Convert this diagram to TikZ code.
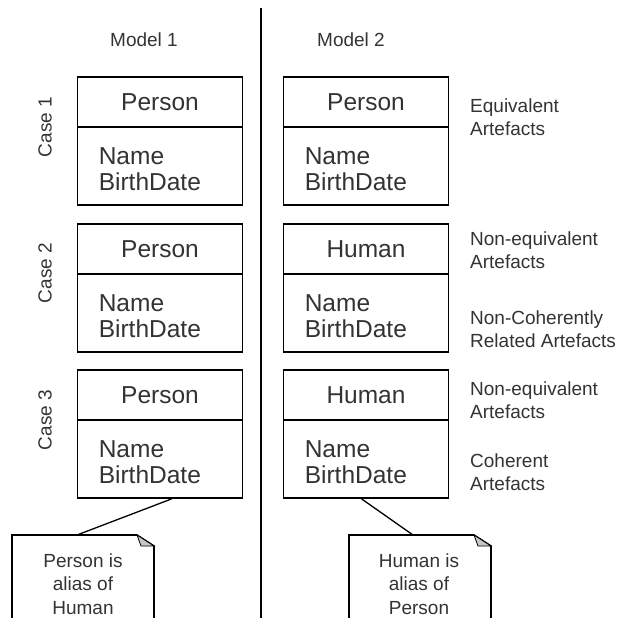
\documentclass[tikz,border=0pt]{standalone}
\usepackage{fontspec}
\setmainfont{Liberation Sans}
\usetikzlibrary{calc}
\definecolor{ink}{gray}{0.2}
\definecolor{earfill}{gray}{0.78}
\begin{document}
\begin{tikzpicture}[x=1pt,y=-1pt,
  big/.style={font=\fontsize{24.5}{26}\selectfont, text=ink},
  small/.style={font=\fontsize{19}{23.5}\selectfont, text=ink},
  frame/.style={draw, line width=1.8pt, minimum width=165pt, inner sep=0pt},
  hdr/.style={frame, minimum height=50pt, big},
  body/.style={frame, minimum height=78pt},
  attrs/.style={big, align=left, anchor=north west, inner sep=0pt},
  side/.style={small, align=left, anchor=north west, inner sep=0pt},
  notetext/.style={small, align=center, anchor=north, inner sep=0pt},
  link/.style={line width=1.3pt},
  notebox/.style={line width=1.6pt, fill=white},
]
\useasboundingbox (0,0) rectangle (618,618);

% column divider
\coordinate (divtop) at (261,8);
\coordinate (divbot) at (261,618);
\draw[line width=1.8pt] (divtop) -- (divbot);

% column headings
\node[small, anchor=base] (m1) at (144,47) {Model 1};
\node[small, anchor=base] (m2) at (351,47) {Model 2};

% row headings
\node[small, rotate=90] (c1) at (45,127) {Case 1};
\node[small, rotate=90] (c2) at (45,273) {Case 2};
\node[small, rotate=90] (c3) at (45,420) {Case 3};

% Model 1 classes
\node[hdr]  (l1h) at (160,102) {Person};
\node[body] (l1b) at (160,166) {};
\node[hdr]  (l2h) at (160,249) {Person};
\node[body] (l2b) at (160,313) {};
\node[hdr]  (l3h) at (160,395) {Person};
\node[body] (l3b) at (160,459) {};

% Model 2 classes
\node[hdr]  (r1h) at (366,102) {Person};
\node[body] (r1b) at (366,166) {};
\node[hdr]  (r2h) at (366,249) {Human};
\node[body] (r2b) at (366,313) {};
\node[hdr]  (r3h) at (366,395) {Human};
\node[body] (r3b) at (366,459) {};

% attributes
\foreach \b in {l1b,l2b,l3b,r1b,r2b,r3b}
  \node[attrs] (\b t) at ($(\b.north west)+(22,21.5)$) {Name\\BirthDate};

% comparison remarks
\node[side] (s1)  at (470,98.4)  {Equivalent\\Artefacts};
\node[side] (s2a) at (470,231.4) {Non-equivalent\\Artefacts};
\node[side] (s2b) at (470,310.4) {Non-Coherently\\Related Artefacts};
\node[side] (s3a) at (470,381.4) {Non-equivalent\\Artefacts};
\node[side] (s3b) at (470,453.4) {Coherent\\Artefacts};

% notes
\coordinate (n1top) at (77,535);
\coordinate (n2top) at (413,535);
\draw[link] ($(l3b.south west)+(95,0)$) -- (n1top);
\draw[link] ($(r3b.south west)+(79,0)$) -- (n2top);

\draw[notebox] (12,622) -- (12,535) -- (137,535) -- (154,546) -- (154,622);
\draw[line width=0.8pt, fill=earfill] (137,535) -- (141,546) -- (154,546) -- cycle;
\draw[notebox] (349,622) -- (349,535) -- (474,535) -- (491,546) -- (491,622);
\draw[line width=0.8pt, fill=earfill] (474,535) -- (478,546) -- (491,546) -- cycle;

\node[notetext] (n1) at (83,553.4)  {Person is\\alias of\\Human};
\node[notetext] (n2) at (419,553.4) {Human is\\alias of\\Person};
\end{tikzpicture}
\end{document}
